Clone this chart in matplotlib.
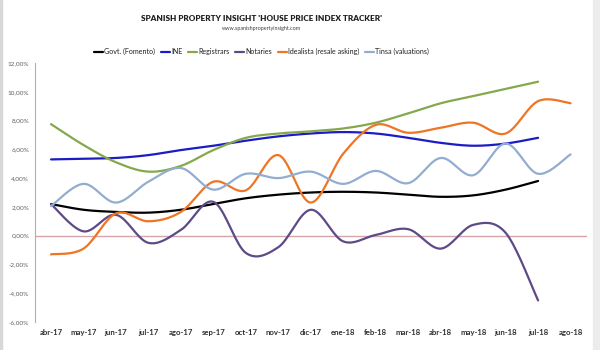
import numpy as np
import matplotlib.pyplot as plt
from matplotlib.patches import Rectangle

plt.rcParams['font.family'] = ['Lato', 'DejaVu Sans']

# Data (% year-on-year)
months = ['abr-17', 'may-17', 'jun-17', 'jul-17', 'ago-17', 'sep-17', 'oct-17', 'nov-17',
          'dic-17', 'ene-18', 'feb-18', 'mar-18', 'abr-18', 'may-18', 'jun-18', 'jul-18', 'ago-18']
nan = np.nan
govt = [2.2, 1.8, 1.65, 1.6, 1.8, 2.2, 2.6, 2.85, 3.0, 3.05, 3.0, 2.85, 2.7, 2.8, 3.2, 3.8, nan]
ine = [5.3, 5.35, 5.4, 5.6, 5.95, 6.25, 6.6, 6.9, 7.1, 7.2, 7.1, 6.8, 6.45, 6.25, 6.4, 6.8, nan]
registrars = [7.75, 6.3, 5.1, 4.45, 4.85, 5.95, 6.8, 7.1, 7.25, 7.45, 7.85, 8.5, 9.2, 9.7, 10.2, 10.7, nan]
notaries = [2.2, 0.3, 1.45, -0.5, 0.4, 2.35, -1.2, -0.8, 1.8, -0.4, 0.05, 0.45, -0.9, 0.75, 0.2, -4.5, nan]
idealista = [-1.3, -0.9, 1.55, 1.0, 1.65, 3.75, 3.15, 5.6, 2.3, 5.7, 7.7, 7.15, 7.5, 7.85, 7.1, 9.35, 9.2]
tinsa = [2.05, 3.6, 2.3, 3.75, 4.7, 3.2, 4.3, 4.0, 4.45, 3.6, 4.5, 3.65, 5.4, 4.2, 6.4, 4.3, 5.65]

series = [
    ('Govt. (Fomento)', govt, '#000000'),
    ('INE', ine, '#1c1cc4'),
    ('Registrars', registrars, '#86a84c'),
    ('Notaries', notaries, '#5e4a86'),
    ('Idealista (resale asking)', idealista, '#ef7424'),
    ('Tinsa (valuations)', tinsa, '#93add0'),
]


# Excel-style smoothed line (cubic Bezier through the points)
def smooth(x, y, n=20):
    x = np.asarray(x, float)
    y = np.asarray(y, float)
    ok = ~np.isnan(y)
    x, y = x[ok], y[ok]
    px = np.concatenate([[x[0]], x, [x[-1]]])
    py = np.concatenate([[y[0]], y, [y[-1]]])
    xs, ys = [], []
    t = np.linspace(0, 1, n)
    for i in range(1, len(px) - 2):
        p0 = np.array([px[i], py[i]])
        p3 = np.array([px[i + 1], py[i + 1]])
        c1 = p0 + (np.array([px[i + 1], py[i + 1]]) - np.array([px[i - 1], py[i - 1]])) / 6
        c2 = p3 - (np.array([px[i + 2], py[i + 2]]) - np.array([px[i], py[i]])) / 6
        b = ((1 - t) ** 3)[:, None] * p0 + (3 * (1 - t) ** 2 * t)[:, None] * c1 \
            + (3 * (1 - t) * t ** 2)[:, None] * c2 + (t ** 3)[:, None] * p3
        xs.extend(b[:, 0])
        ys.extend(b[:, 1])
    return xs, ys


fig = plt.figure(figsize=(6, 3.5), dpi=100)
ax = fig.add_axes([0.058, 0.08, 0.92, 0.74])

x = np.arange(len(months))
for name, vals, col in series:
    sx, sy = smooth(x, vals)
    ax.plot(sx, sy, color=col, lw=1.6, label=name, solid_capstyle='round')

ax.axhline(0, color='#d4a4aa', lw=1.0, zorder=0)

ax.set_xlim(-0.5, len(months) - 0.5)
ax.set_ylim(-6, 12)
ax.set_yticks(np.arange(-6, 13, 2))
ax.set_yticklabels([f'{v:.2f}%'.replace('.', ',') for v in np.arange(-6, 13, 2)],
                   fontsize=4.6, color='#606060')
ax.set_xticks(x)
ax.set_xticklabels(months, fontsize=5.6, fontweight='bold', color='#303030')
ax.tick_params(axis='x', length=0, pad=5)
ax.tick_params(axis='y', length=0, pad=4)
for s in ['top', 'right', 'bottom']:
    ax.spines[s].set_visible(False)
ax.spines['left'].set_color('#b0b0b0')
ax.spines['left'].set_linewidth(0.8)

fig.text(0.436, 0.948, "SPANISH PROPERTY INSIGHT 'HOUSE PRICE INDEX TRACKER'",
         ha='center', va='center', fontsize=5.9, fontweight='heavy', color='#202020')
fig.text(0.436, 0.918, 'www.spanishpropertyinsight.com', ha='center', va='center',
         fontsize=3.9, color='#404040')

leg = fig.legend(loc='center', bbox_to_anchor=(0.436, 0.852), ncol=6, frameon=False,
                 fontsize=5.1, handlelength=1.3, handletextpad=0.15, columnspacing=0.8)
for t in leg.get_texts():
    t.set_color('#202020')

# light frame of the original image
fig.patches.append(Rectangle((0.988, 0), 0.012, 1, transform=fig.transFigure,
                             color='#ececec', zorder=0))
fig.patches.append(Rectangle((0, 0), 0.004, 1, transform=fig.transFigure,
                             color='#d8d8d8', zorder=0))

fig.savefig('out.png', dpi=100)
